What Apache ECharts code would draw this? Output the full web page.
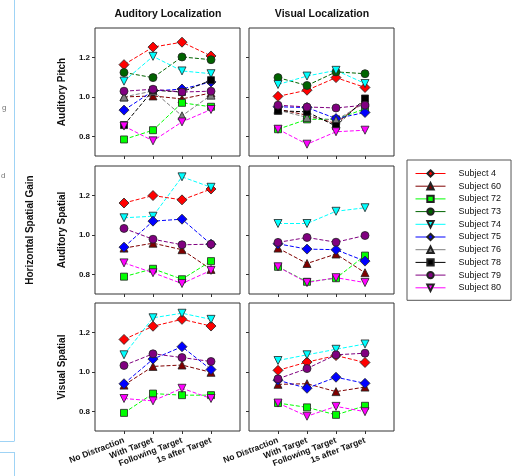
<!DOCTYPE html>
<html><head><meta charset="utf-8">
<script src="https://cdn.jsdelivr.net/npm/echarts@6/dist/echarts.min.js"></script>
<style>html,body{margin:0;padding:0;background:#fff}#c{width:516px;height:476px}</style>
</head><body><div id="c"></div>
<script>
const categories = ['No Distraction', 'With Target', 'Following Target', '1s after Target'];
const subjects = ['Subject 4','Subject 60','Subject 72','Subject 73','Subject 74','Subject 75','Subject 76','Subject 78','Subject 79','Subject 80'];
const colTitles = ['Auditory Localization', 'Visual Localization'];
const rowTitles = ['Auditory Pitch', 'Auditory Spatial', 'Visual Spatial'];
const yTicks = [0.8, 1.0, 1.2];

// values per panel, in subject order (null = subject not shown)
const pitchAud = [
  [1.164, 1.253, 1.278, 1.208],
  [1.0, 1.005, 0.99, 1.02],
  [0.784, 0.831, 0.97, 0.95],
  [1.124, 1.098, 1.203, 1.189],
  [1.08, 1.206, 1.132, 1.118],
  [0.933, 1.03, 1.04, 1.076],
  [1.0, 1.03, 0.904, 1.009],
  [0.857, 1.034, 1.025, 1.085],
  [1.029, 1.039, 1.025, 1.029],
  [0.852, 0.777, 0.873, 0.936]
];
const pitchVis = [
  [1.003, 1.034, 1.098, 1.048],
  [0.938, 0.907, 0.865, 0.983],
  [0.836, 0.886, 0.886, 0.94],
  [1.098, 1.058, 1.127, 1.118],
  [1.063, 1.106, 1.135, 1.068],
  [0.95, 0.946, 0.89, 0.921],
  [0.933, 0.896, 0.882, 0.97],
  [0.93, 0.924, 0.852, 0.992],
  [0.958, 0.949, 0.944, 0.958],
  [0.836, 0.76, 0.823, 0.831]
];
const audSpAud = [
  [1.162, 1.2, 1.178, 1.233],
  [0.933, 0.958, 0.925, 0.825],
  [0.788, 0.828, 0.775, 0.867],
  null,
  [1.087, 1.095, 1.295, 1.242],
  [0.938, 1.07, 1.08, 0.953],
  null,
  null,
  [1.033, 0.978, 0.95, 0.953],
  [0.858, 0.808, 0.753, 0.82]
];
const audSpVis = [
  null,
  [0.933, 0.855, 0.903, 0.808],
  [0.838, 0.762, 0.78, 0.895],
  null,
  [1.058, 1.058, 1.12, 1.138],
  [0.955, 0.928, 0.925, 0.867],
  null,
  null,
  [0.962, 0.987, 0.963, 0.997],
  [0.838, 0.758, 0.783, 0.758]
];
const visSpAud = [
  [1.165, 1.232, 1.267, 1.233],
  [0.933, 1.028, 1.035, 0.998],
  [0.792, 0.89, 0.882, 0.882],
  null,
  [1.087, 1.275, 1.298, 1.267],
  [0.94, 1.065, 1.128, 1.012],
  null,
  null,
  [1.033, 1.092, 1.073, 1.053],
  [0.865, 0.853, 0.917, 0.865]
];
const visSpVis = [
  [1.008, 1.05, 1.083, 1.048],
  [0.937, 0.94, 0.9, 0.923],
  [0.842, 0.82, 0.782, 0.828],
  null,
  [1.058, 1.087, 1.115, 1.142],
  [0.958, 0.917, 0.973, 0.942],
  null,
  null,
  [0.965, 1.017, 1.087, 1.095],
  [0.842, 0.775, 0.825, 0.798]
];
const panels = [pitchAud, pitchVis, audSpAud, audSpVis, visSpAud, visSpVis];

const colors = ['#ff0000','#800000','#00ff00','#006400','#00ffff','#0000ff','#808080','#000000','#800080','#ff00ff'];
const symbols = ['diamond','triangle','rect','circle','triangle','diamond','triangle','rect','circle','triangle'];
const rotates = [0,0,0,0,180,0,0,0,0,180];
const sizes = [10,8,7,8,8,10,8,7,8,8];

const FONT = '"Liberation Sans", Arial, sans-serif';
const gl = [95, 249], gt = [28, 166, 303], GW = 145, GH = 128;

const grid = [], xAxis = [], yAxis = [], series = [];
for (let r = 0; r < 3; r++) {
  for (let c = 0; c < 2; c++) {
    const i = r * 2 + c;
    grid.push({left: gl[c], top: gt[r], width: GW, height: GH, show: true, borderColor: '#333', borderWidth: 1, backgroundColor: 'transparent'});
    xAxis.push({
      type: 'value', gridIndex: i, min: 0, max: 5,
      axisLine: {show: false}, splitLine: {show: false},
      axisTick: {show: true, inside: false, length: 3, lineStyle: {color: '#333'}, customValues: [1,2,3,4]},
      axisLabel: {show: r === 2, rotate: 21, margin: 9, fontSize: 8.5, fontWeight: 'bold', color: '#111', fontFamily: FONT,
        customValues: [1,2,3,4], formatter: v => categories[Math.round(v) - 1] || ''}
    });
    yAxis.push({
      type: 'value', gridIndex: i, min: 0.7, max: 1.35,
      axisLine: {show: false}, splitLine: {show: false},
      axisTick: {show: true, inside: false, length: 3, lineStyle: {color: '#333'}, customValues: yTicks},
      axisLabel: {show: c === 0, margin: 5, fontSize: 8, fontWeight: 'bold', color: '#111', fontFamily: FONT,
        customValues: yTicks, formatter: v => v.toFixed(1)}
    });
    panels[i].forEach((vals, s) => {
      if (!vals) return;
      series.push({
        type: 'line', name: subjects[s], xAxisIndex: i, yAxisIndex: i,
        data: vals.map((v, k) => [k + 1, v]),
        symbol: symbols[s], symbolRotate: rotates[s], symbolSize: sizes[s],
        lineStyle: {color: colors[s], width: 1, type: [4, 2]},
        itemStyle: {color: colors[s], borderColor: '#222', borderWidth: 0.8},
        animation: false, silent: true
      });
    });
  }
}

const txt = (text, x, y, rot, size) => ({
  type: 'text', x: x, y: y, rotation: rot || 0,
  style: {text: text, fontSize: size || 10, fontWeight: 'bold', fill: '#111', fontFamily: FONT, textAlign: 'center', textVerticalAlign: 'middle'}
});
const graphic = [
  txt(colTitles[0], 168, 14, 0, 10.5),
  txt(colTitles[1], 322, 14, 0, 10.5),
  txt(rowTitles[0], 62, 92, Math.PI / 2, 10),
  txt(rowTitles[1], 62, 230, Math.PI / 2, 10),
  txt(rowTitles[2], 62, 367, Math.PI / 2, 10),
  txt('Horizontal Spatial Gain', 30, 230, Math.PI / 2, 10),
  {type: 'line', shape: {x1: 14.5, y1: 0, x2: 14.5, y2: 441}, style: {stroke: '#9fd3f5', lineWidth: 1}},
  {type: 'line', shape: {x1: 0, y1: 441.5, x2: 14.5, y2: 441.5}, style: {stroke: '#9fd3f5', lineWidth: 1}},
  {type: 'line', shape: {x1: 0, y1: 452.5, x2: 14.5, y2: 452.5}, style: {stroke: '#9fd3f5', lineWidth: 1}},
  {type: 'line', shape: {x1: 14.5, y1: 452, x2: 14.5, y2: 476}, style: {stroke: '#9fd3f5', lineWidth: 1}},
  {type: 'text', x: 2, y: 108, style: {text: 'g', fontSize: 8, fill: '#777', fontFamily: FONT, textVerticalAlign: 'middle'}},
  {type: 'text', x: 1, y: 176, style: {text: 'd', fontSize: 8, fill: '#777', fontFamily: FONT, textVerticalAlign: 'middle'}}
];

const chart = echarts.init(document.getElementById('c'), null, {renderer: 'canvas'});
chart.setOption({
  animation: false,
  backgroundColor: '#fff',
  grid: grid, xAxis: xAxis, yAxis: yAxis, series: series, graphic: graphic,
  legend: {
    data: subjects, orient: 'vertical', left: 407, top: 160,
    padding: [9, 10, 8, 8], itemWidth: 30, itemHeight: 8, itemGap: 3.7,
    borderColor: '#555', borderWidth: 1, selectedMode: false,
    lineStyle: {type: 'solid', width: 1},
    textStyle: {fontSize: 9, color: '#111', fontFamily: FONT, lineHeight: 9, padding: [0, 0, 0, 8]}
  }
});
</script>
</body></html>
